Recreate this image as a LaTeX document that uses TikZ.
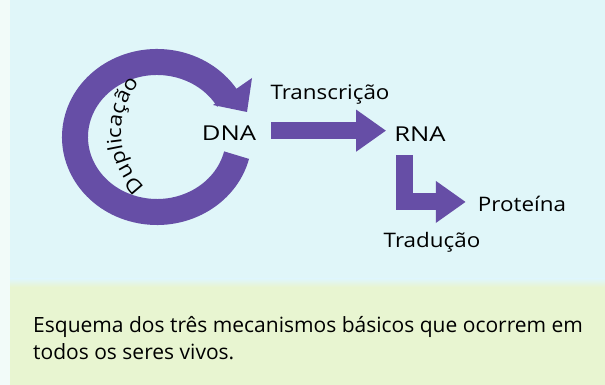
\documentclass[tikz,border=0pt]{standalone}
\usepackage{fontspec}
\setmainfont{Open Sans}
\newfontfamily\wide[FakeStretch=1.12]{Open Sans}
\newfontfamily\wider[FakeStretch=1.25]{Open Sans}
\usetikzlibrary{arrows.meta,decorations.text,calc}

\definecolor{bgblue}{RGB}{224,246,249}
\definecolor{bggreen}{RGB}{232,245,209}
\definecolor{bgedge}{RGB}{242,251,249}
\definecolor{roxo}{RGB}{102,78,166}

\tikzset{
  fat/.style={draw=roxo, line width=17pt, line join=miter,
    -{Triangle[width=40pt,length=30pt]}},
  lbl/.style={inner sep=0pt, anchor=base, font=\wide\fontsize{20}{22}\selectfont},
  caps/.style={lbl, font=\wider\fontsize{20.5}{22}\selectfont},
}

\begin{document}
\begin{tikzpicture}[x=1pt, y=1pt]
  \useasboundingbox (0,0) rectangle (605,385);
  % fundo
  \fill[bgedge] (0,0) rectangle (605,385);
  \fill[bgblue] (10,102) rectangle (605,385);
  \fill[bggreen] (10,0) rectangle (605,100);
  \shade[bottom color=bggreen, top color=bgblue] (10,98) rectangle (605,106);

  % textos
  \node[caps] (dna) at (229,244) {DNA};
  \node[caps] (rna) at (420,243) {RNA};
  \node[lbl] (trans) at (330,285) {Transcrição};
  \node[lbl] (prot) at (522,173) {Proteína};
  \node[lbl] (trad) at (432,137) {Tradução};

  % duplicacao
  \coordinate (c) at (157,248);
  \draw[roxo, line width=26pt] ($(c)+(-14:82 and 75)$)
    arc[start angle=-14, end angle=-330, x radius=82, y radius=75];
  \coordinate (h1) at (213,280);
  \coordinate (h2) at (252,307);
  \coordinate (h3) at (247,273);
  \fill[roxo] (h1) -- (h2) -- (h3) -- cycle;

  \coordinate (t) at (196,253);
  \path[decorate, decoration={text along path, text align=center,
      text={|\wide\fontsize{20}{22}\selectfont|Duplicação}}]
    ($(t)+(242:75)$) arc[start angle=242, end angle=124, radius=75];

  % transcricao e traducao
  \draw[fat, shorten <=15pt, shorten >=8pt] ([yshift=3pt]dna.east) -- ([yshift=3pt]dna.east -| rna.west);
  \draw[fat, shorten <=13pt, shorten >=12pt] ([xshift=-15.5pt]rna.south) |- ([yshift=2.5pt]prot.west);

  % legenda
  \node[anchor=west, align=left, inner sep=0pt, font=\fontsize{21}{27}\selectfont]
    (cap) at (33,46.5) {Esquema dos três mecanismos básicos que ocorrem em\\todos os seres vivos.};
\end{tikzpicture}
\end{document}
